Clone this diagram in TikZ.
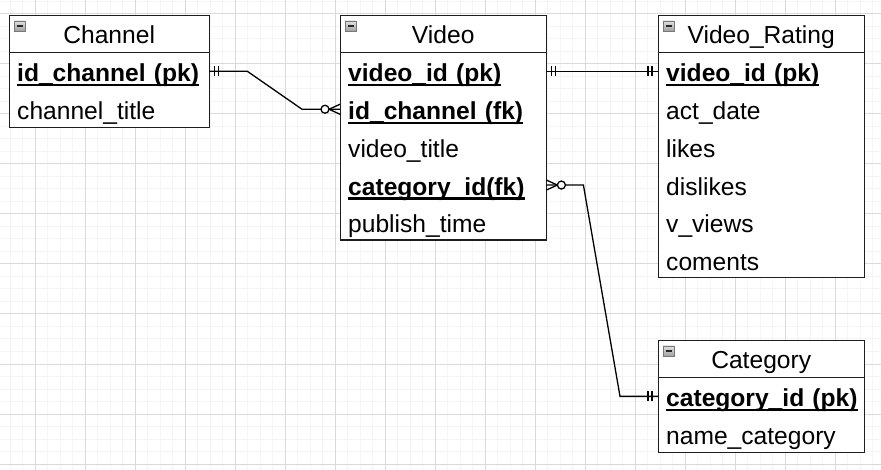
\documentclass[tikz,border=0pt]{standalone}
\usepackage{fontspec}
\setmainfont{Liberation Sans}
\definecolor{gridminor}{RGB}{245,245,245}
\definecolor{gridmajor}{RGB}{218,218,218}
\definecolor{boxline}{RGB}{30,30,30}
\definecolor{icontop}{RGB}{225,225,225}
\definecolor{iconbot}{RGB}{160,160,160}
\newcommand\pkfield[1]{\setbox0=\hbox{\bfseries #1}\rlap{\rule[-4.6pt]{\wd0}{2.2pt}}\box0}
\tikzset{
  every node/.style={font=\fontsize{24.6pt}{29pt}\selectfont},
  entbox/.style={draw=boxline, line width=1.3pt, fill=white, inner sep=0pt, anchor=north west},
  headbox/.style={minimum width=#1, minimum height=37pt, inner sep=0pt, text height=24pt, text depth=4pt, anchor=north west},
  rowbox/.style={text width=#1, inner xsep=8pt, inner ysep=0pt, minimum height=37.5pt, text height=24pt, text depth=4pt, align=left, anchor=north west},
  sepline/.style={draw=boxline, line width=1.3pt},
  conn/.style={draw=black, line width=1.3pt},
  iconbox/.style={draw={rgb,255:red,120;green,120;blue,120}, line width=0.8pt, top color=icontop, bottom color=iconbot},
  iconbar/.style={draw={rgb,255:red,40;green,40;blue,40}, line width=1.6pt},
}
\newcommand\hdricon[1]{%
  \draw[iconbox] ([shift={(5,6)}]#1.north west) rectangle ++(11,10);
  \draw[iconbar] ([shift={(7.5,11)}]#1.north west) -- ++(6,0);}
\newcommand\ticksR[1]{%
  \draw[conn] ([shift={(5,-5)}]#1) -- ++(0,10);
  \draw[conn] ([shift={(9,-5)}]#1) -- ++(0,10);}
\newcommand\ticksL[1]{%
  \draw[conn] ([shift={(-6,-5)}]#1) -- ++(0,10);
  \draw[conn] ([shift={(-10,-5)}]#1) -- ++(0,10);}
\newcommand\crowL[1]{%
  \draw[conn] ([xshift=-11pt]#1) -- ([yshift=5pt]#1);
  \draw[conn] ([xshift=-11pt]#1) -- ([yshift=-5pt]#1);
  \draw[conn, fill=white] ([xshift=-15pt]#1) circle (4pt);}
\newcommand\crowR[1]{%
  \draw[conn] ([xshift=11pt]#1) -- ([yshift=5pt]#1);
  \draw[conn] ([xshift=11pt]#1) -- ([yshift=-5pt]#1);
  \draw[conn, fill=white] ([xshift=15pt]#1) circle (4pt);}
\begin{document}
\begin{tikzpicture}[x=1pt, y=-1pt]
\useasboundingbox (0,0) rectangle (881,470);
\fill[white] (0,0) rectangle (881,470);
\begin{scope}
\clip (0,0) rectangle (881,470);
\foreach \x in {-2.5,10,...,885} \draw[gridminor, line width=1pt] (\x,0) -- (\x,470);
\foreach \y in {1.5,14,...,470} \draw[gridminor, line width=1pt] (0,\y) -- (881,\y);
\foreach \x in {35,85,...,885} \draw[gridmajor, line width=1pt] (\x,0) -- (\x,470);
\foreach \y in {14,64,...,470} \draw[gridmajor, line width=1pt] (0,\y) -- (881,\y);
\end{scope}

% Channel
\node[entbox, minimum width=200pt, minimum height=112pt] (channel) at (9,15) {};
\node[headbox=200pt] (chh) at (9,15) {Channel};
\draw[sepline] (chh.south west) -- (chh.south east);
\hdricon{chh}
\node[rowbox=184pt] (ch1) at (chh.south west) {\pkfield{id\_channel (pk)}};
\node[rowbox=184pt] (ch2) at (ch1.south west) {channel\_title};

% Video
\node[entbox, minimum width=206pt, minimum height=224.5pt] (video) at (340,15) {};
\node[headbox=206pt] (vh) at (340,15) {Video};
\draw[sepline] (vh.south west) -- (vh.south east);
\hdricon{vh}
\node[rowbox=190pt] (v1) at (vh.south west) {\pkfield{video\_id (pk)}};
\node[rowbox=190pt] (v2) at (v1.south west) {\pkfield{id\_channel (fk)}};
\node[rowbox=190pt] (v3) at (v2.south west) {video\_title};
\node[rowbox=190pt] (v4) at (v3.south west) {\pkfield{category\_id(fk)}};
\node[rowbox=190pt] (v5) at (v4.south west) {publish\_time};

% Video_Rating
\node[entbox, minimum width=206pt, minimum height=262pt] (rating) at (658,15) {};
\node[headbox=206pt] (vrh) at (658,15) {Video\_Rating};
\draw[sepline] (vrh.south west) -- (vrh.south east);
\hdricon{vrh}
\node[rowbox=190pt] (vr1) at (vrh.south west) {\pkfield{video\_id (pk)}};
\node[rowbox=190pt] (vr2) at (vr1.south west) {act\_date};
\node[rowbox=190pt] (vr3) at (vr2.south west) {likes};
\node[rowbox=190pt] (vr4) at (vr3.south west) {dislikes};
\node[rowbox=190pt] (vr5) at (vr4.south west) {v\_views};
\node[rowbox=190pt] (vr6) at (vr5.south west) {coments};

% Category
\node[entbox, minimum width=206pt, minimum height=112pt] (category) at (658,340) {};
\node[headbox=206pt] (ch) at (658,340) {Category};
\draw[sepline] (ch.south west) -- (ch.south east);
\hdricon{ch}
\node[rowbox=190pt] (c1) at (ch.south west) {\pkfield{category\_id (pk)}};
\node[rowbox=190pt] (c2) at (c1.south west) {name\_category};

% Channel -> Video
\draw[conn] (ch1.east) -- ++(38,0) -- ([xshift=-38pt]v2.west) -- (v2.west);
\ticksR{ch1.east}
\crowL{v2.west}

% Video -> Video_Rating
\draw[conn] (v1.east) -- (vr1.west);
\ticksR{v1.east}
\ticksL{vr1.west}

% Video -> Category
\draw[conn] (v4.east) -- ++(37,0) -- ([xshift=-38pt]c1.west) -- (c1.west);
\crowR{v4.east}
\ticksL{c1.west}
\end{tikzpicture}
\end{document}
